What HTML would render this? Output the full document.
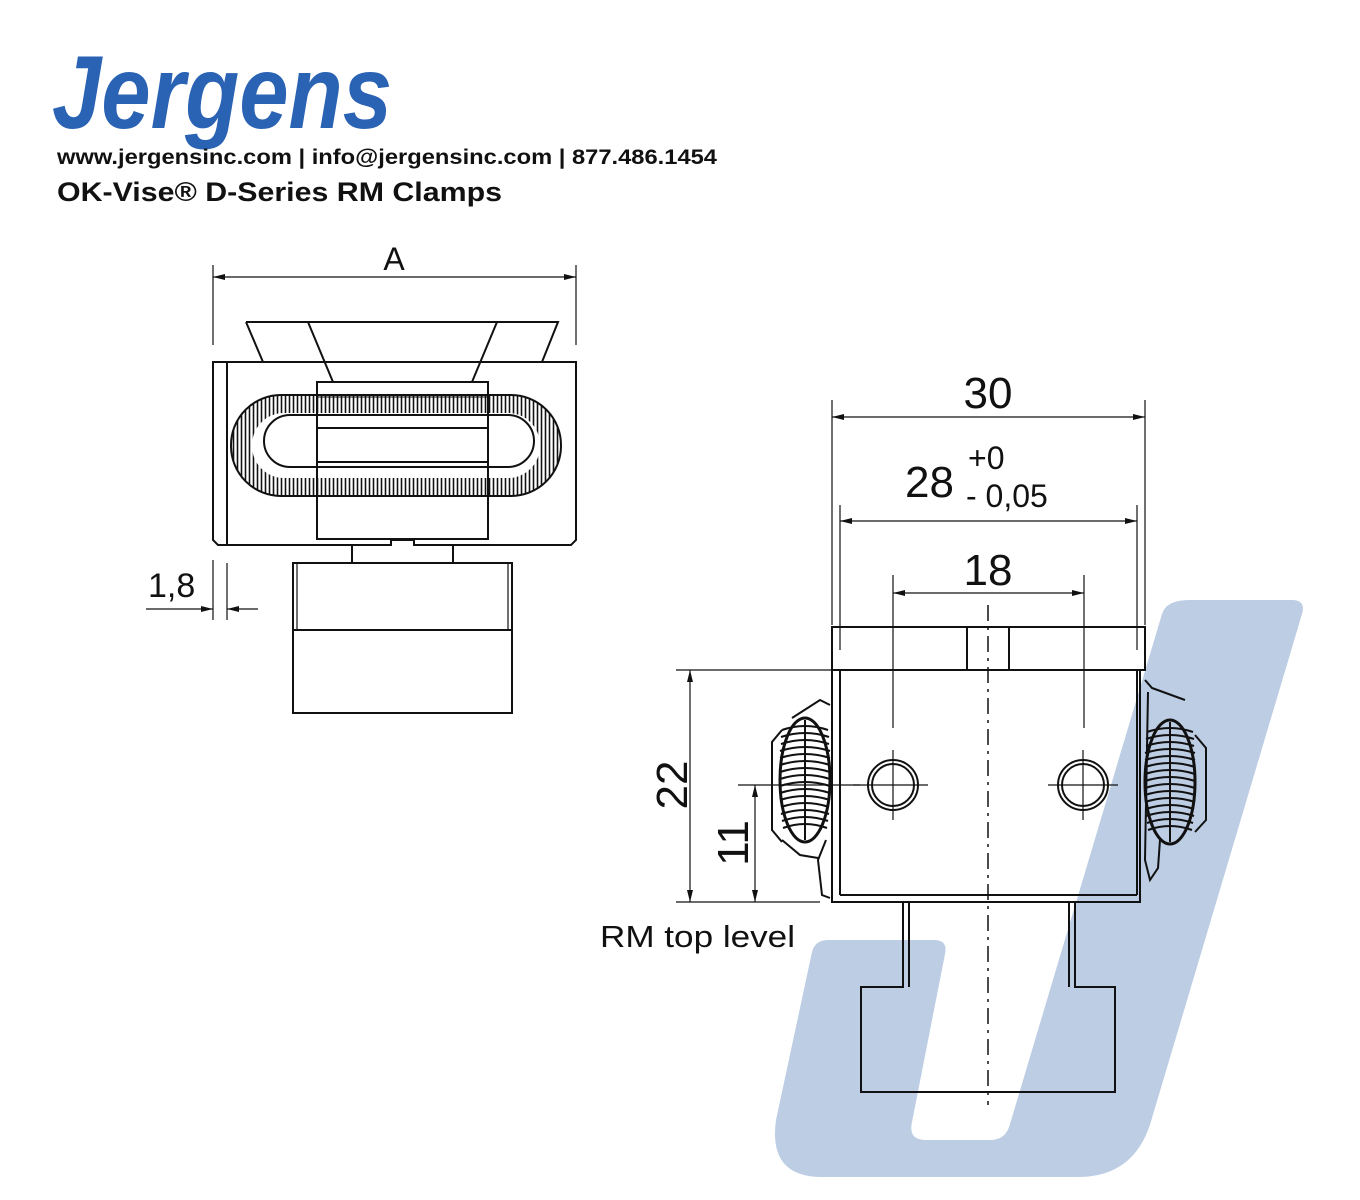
<!DOCTYPE html>
<html><head><meta charset="utf-8"><style>
html,body{margin:0;padding:0;background:#fff;}
svg{display:block}
</style></head><body>
<svg width="1360" height="1200" viewBox="0 0 1360 1200" xmlns="http://www.w3.org/2000/svg" font-family="Liberation Sans, sans-serif">
<defs>
<pattern id="hatch" width="4" height="10" patternUnits="userSpaceOnUse">
<rect width="4" height="10" fill="#fff"/><line x1="1.5" y1="0" x2="1.5" y2="10" stroke="#111" stroke-width="1.6"/>
</pattern>
<marker id="ar" viewBox="0 0 12 6" refX="12" refY="3" markerWidth="12" markerHeight="6" orient="auto-start-reverse" markerUnits="userSpaceOnUse"><path d="M0,0 L12,3 L0,6 Z" fill="#111"/></marker>
</defs>

<!-- watermark J -->
<path d="M1190,600 L1292,600 Q1306,600 1302,614 L1152,1118 Q1136,1177 1078,1177 L822,1177 Q768,1177 776,1120 L812,952 Q815,940 828,940 L934,940 Q948,940 945,954 L912,1122 Q908,1140 926,1140 L990,1140 Q1006,1140 1010,1124 L1162,614 Q1166,600 1190,600 Z" fill="#bccde4"/>

<!-- header -->
<text x="52" y="128" font-size="104" font-weight="bold" font-style="italic" fill="#2a62b4" textLength="340" lengthAdjust="spacingAndGlyphs">Jergens</text>
<text x="57" y="164" font-size="21" font-weight="bold" fill="#111" textLength="660" lengthAdjust="spacingAndGlyphs">www.jergensinc.com | info@jergensinc.com | 877.486.1454</text>
<text x="57" y="201" font-size="27" font-weight="bold" fill="#111" textLength="445" lengthAdjust="spacingAndGlyphs">OK-Vise® D-Series RM Clamps</text>

<g stroke="#111" fill="none" stroke-width="2">
<!-- LEFT VIEW -->
<line x1="213" y1="265" x2="213" y2="345" stroke-width="1.2"/>
<line x1="576" y1="265" x2="576" y2="345" stroke-width="1.2"/>
<line x1="213" y1="277" x2="576" y2="277" stroke-width="1.2" marker-start="url(#ar)" marker-end="url(#ar)"/>
<path d="M246,322 L558,322 L542,362 M246,322 L263,362"/>
<path d="M308,322 L333,382 M497,322 L472,382"/>
<path d="M213,362 L576,362 L576,540 L571,545 L414,545 L414,540 L391,540 L391,545 L218,545 L213,540 Z"/>
<line x1="227" y1="362" x2="227" y2="545"/>
<!-- spring oval -->
<rect x="231" y="395" width="330" height="101" rx="50" fill="url(#hatch)"/>
<rect x="252" y="413" width="288" height="65" rx="32" fill="#fff" stroke="none"/>
<rect x="264" y="415" width="270" height="52" rx="26" fill="#fff"/>
<rect x="317" y="382" width="171" height="157" fill="none"/>
<rect x="318" y="383" width="169" height="12" fill="#fff" stroke="none"/>
<rect x="318" y="428" width="169" height="34" fill="#fff" stroke="none"/>
<rect x="318" y="497" width="169" height="41" fill="#fff" stroke="none"/>
<line x1="317" y1="395" x2="488" y2="395"/>
<line x1="317" y1="428" x2="488" y2="428"/>
<line x1="317" y1="462" x2="488" y2="462"/>
<line x1="317" y1="496" x2="488" y2="496"/>
<line x1="317" y1="397" x2="488" y2="397" stroke-width="1"/>
<line x1="352" y1="545" x2="352" y2="563"/>
<line x1="453" y1="545" x2="453" y2="563"/>
<rect x="293" y="563" width="219" height="150"/>
<line x1="293" y1="630" x2="512" y2="630"/>
<line x1="297" y1="563" x2="297" y2="630" stroke-width="1.2"/>
<line x1="508" y1="563" x2="508" y2="630" stroke-width="1.2"/>
<!-- 1,8 -->
<line x1="213" y1="560" x2="213" y2="620" stroke-width="1.2"/>
<line x1="227" y1="563" x2="227" y2="620" stroke-width="1.2"/>
<line x1="146" y1="609" x2="213" y2="609" stroke-width="1.2" marker-end="url(#ar)"/>
<line x1="258" y1="609" x2="227" y2="609" stroke-width="1.2" marker-end="url(#ar)"/>

<!-- RIGHT VIEW -->
<line x1="832" y1="400" x2="832" y2="625" stroke-width="1.2"/>
<line x1="1145" y1="400" x2="1145" y2="625" stroke-width="1.2"/>
<line x1="832" y1="417" x2="1145" y2="417" stroke-width="1.2" marker-start="url(#ar)" marker-end="url(#ar)"/>
<line x1="840" y1="505" x2="840" y2="650" stroke-width="1.2"/>
<line x1="1137" y1="505" x2="1137" y2="650" stroke-width="1.2"/>
<line x1="840" y1="521" x2="1137" y2="521" stroke-width="1.2" marker-start="url(#ar)" marker-end="url(#ar)"/>
<line x1="893" y1="575" x2="893" y2="728" stroke-width="1.2"/>
<line x1="1084" y1="575" x2="1084" y2="728" stroke-width="1.2"/>
<line x1="893" y1="593" x2="1084" y2="593" stroke-width="1.2" marker-start="url(#ar)" marker-end="url(#ar)"/>
<rect x="832" y="627" width="313" height="43"/>
<rect x="967" y="627" width="42" height="43"/>
<path d="M832,670 L832,902 L1140,902 L1140,670"/>
<line x1="840" y1="670" x2="840" y2="895"/>
<line x1="1137" y1="670" x2="1137" y2="895"/>
<line x1="840" y1="895" x2="1137" y2="895"/>
<line x1="988" y1="605" x2="988" y2="1105" stroke-width="1.5" stroke-dasharray="16,6,3,6"/>
<circle cx="893" cy="785" r="25"/><circle cx="893" cy="785" r="21"/>
<circle cx="1083" cy="785" r="25"/><circle cx="1083" cy="785" r="21"/>
<line x1="853" y1="785" x2="928" y2="785" stroke-width="1.2"/>
<line x1="893" y1="750" x2="893" y2="820" stroke-width="1.2"/>
<line x1="1048" y1="785" x2="1118" y2="785" stroke-width="1.2"/>
<line x1="1083" y1="750" x2="1083" y2="820" stroke-width="1.2"/>
<!-- left spring -->
<path d="M830,705 L820,700 L792,718 M826,840 L818,860 L822,895 L830,898 M782,840 L800,855 L818,858"/>
<path d="M782,730 L772,742 L772,830 L782,842"/>
<ellipse cx="805" cy="780" rx="25" ry="62" stroke-width="3"/>
<g stroke-width="2">
<path d="M782,730 Q805,722 828,730 M781,737 Q805,729 829,737 M781,744 Q805,736 829,744 M780,751 Q805,743 830,751 M780,758 Q805,750 830,758 M780,765 Q805,757 830,765 M780,772 Q805,764 830,772 M780,779 Q805,771 830,779 M780,786 Q805,778 830,786 M780,793 Q805,785 830,793 M780,800 Q805,792 830,800 M781,807 Q805,799 829,807 M781,814 Q805,806 829,814 M782,821 Q805,813 828,821 M783,828 Q805,820 827,828"/>
<line x1="805" y1="720" x2="805" y2="840"/>
</g>
<!-- right spring -->
<path d="M1145,680 L1152,688 L1185,700 M1148,692 L1145,860 L1150,880 L1158,868 L1160,840"/>
<path d="M1195,735 L1206,748 L1206,820 L1195,832"/>
<ellipse cx="1170" cy="782" rx="25" ry="62" stroke-width="3"/>
<g stroke-width="2">
<path d="M1147,732 Q1170,724 1193,732 M1146,739 Q1170,731 1194,739 M1146,746 Q1170,738 1194,746 M1145,753 Q1170,745 1195,753 M1145,760 Q1170,752 1195,760 M1145,767 Q1170,759 1195,767 M1145,774 Q1170,766 1195,774 M1145,781 Q1170,773 1195,781 M1145,788 Q1170,780 1195,788 M1145,795 Q1170,787 1195,795 M1145,802 Q1170,794 1195,802 M1146,809 Q1170,801 1194,809 M1146,816 Q1170,808 1194,816 M1147,823 Q1170,815 1193,823 M1148,830 Q1170,822 1192,830"/>
<line x1="1170" y1="722" x2="1170" y2="842"/>
</g>
<!-- lower part -->
<path d="M903,902 L903,987 L861,987 L861,1092 L1115,1092 L1115,987 L1075,987 L1075,902"/>
<line x1="909" y1="902" x2="909" y2="987"/>
<line x1="1069" y1="902" x2="1069" y2="987"/>
<!-- 22 / 11 -->
<line x1="676" y1="670" x2="832" y2="670" stroke-width="1.2"/>
<line x1="676" y1="902" x2="820" y2="902" stroke-width="1.2"/>
<line x1="690" y1="670" x2="690" y2="902" stroke-width="1.2" marker-start="url(#ar)" marker-end="url(#ar)"/>
<line x1="738" y1="785" x2="860" y2="785" stroke-width="1.2"/>
<line x1="755" y1="785" x2="755" y2="902" stroke-width="1.2" marker-start="url(#ar)" marker-end="url(#ar)"/>
</g>

<g fill="#111">
<text x="394" y="270" font-size="32" text-anchor="middle">A</text>
<text x="148" y="597" font-size="34">1,8</text>
<text x="988" y="408" font-size="44" text-anchor="middle">30</text>
<text x="905" y="497" font-size="44">28</text>
<text x="968" y="469" font-size="32">+0</text>
<text x="966" y="507" font-size="32">- 0,05</text>
<text x="988" y="585" font-size="44" text-anchor="middle">18</text>
<text transform="translate(687,785) rotate(-90)" font-size="44" text-anchor="middle">22</text>
<text transform="translate(748,843) rotate(-90)" font-size="44" text-anchor="middle">11</text>
<text x="600" y="947" font-size="31" textLength="195" lengthAdjust="spacingAndGlyphs">RM top level</text>
</g>
</svg>
</body></html>
